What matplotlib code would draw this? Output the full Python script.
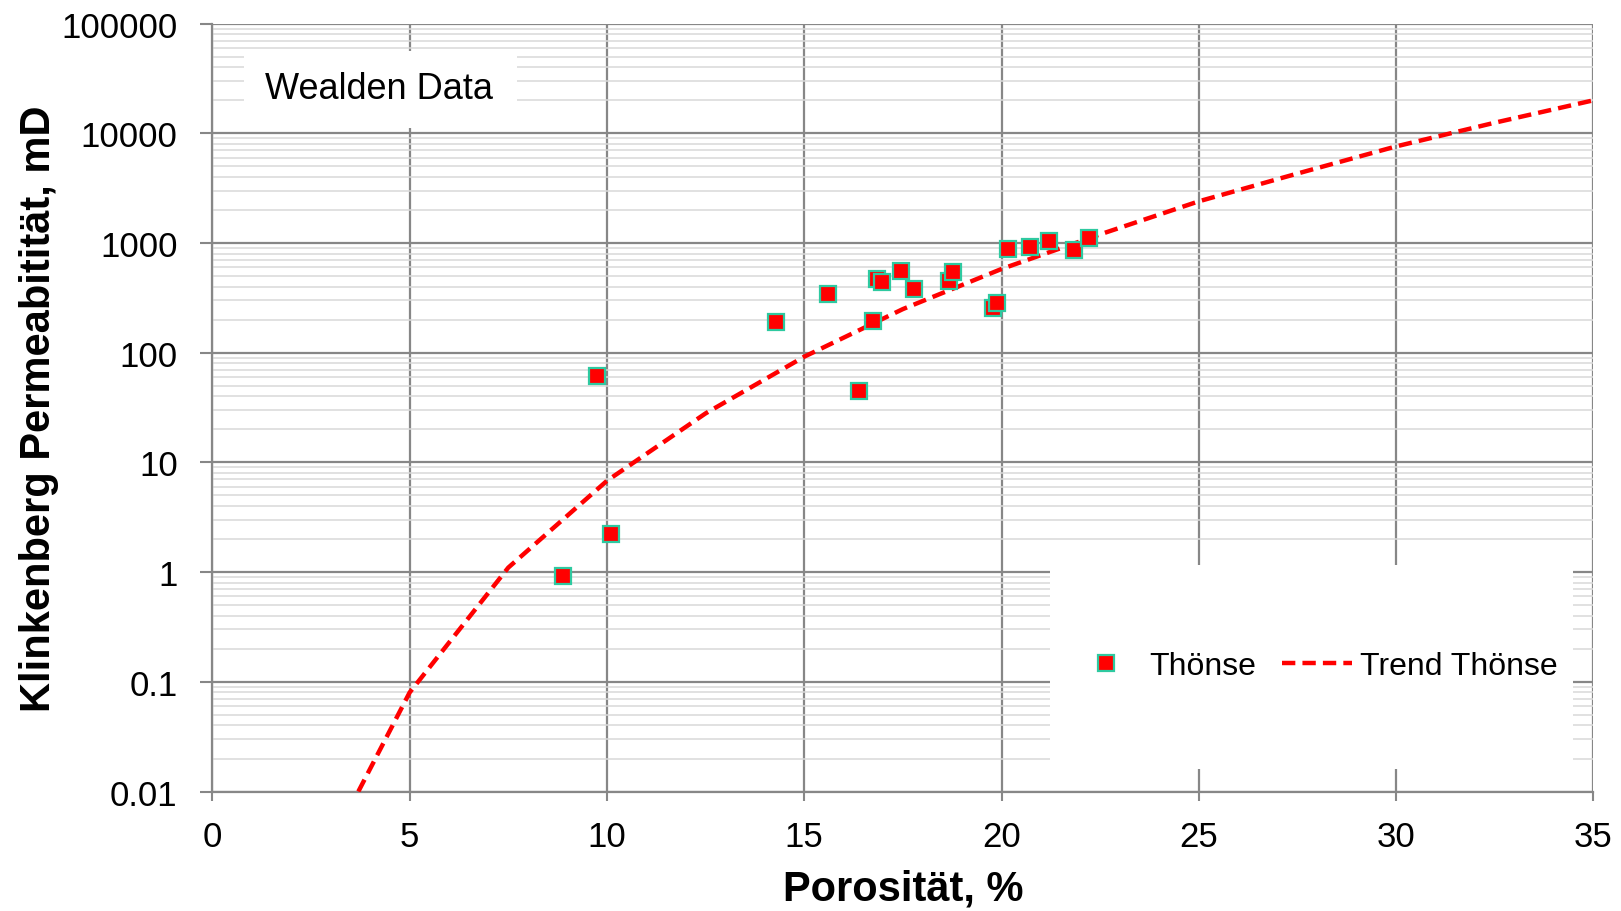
import matplotlib
matplotlib.use("Agg")
import matplotlib.pyplot as plt
from matplotlib.ticker import FixedLocator, LogLocator, NullFormatter
from matplotlib.patches import Rectangle

plt.rcParams['font.family'] = ['Liberation Sans', 'DejaVu Sans']

# Measured data (Thönse)
porosity = [8.88, 9.74, 10.11, 14.28, 15.59, 16.39, 16.73, 16.85, 16.98, 17.46,
            17.78, 18.67, 18.77, 19.79, 19.89, 20.16, 20.71, 21.19, 21.83, 22.21]
perm = [0.92, 62, 2.22, 192, 340, 45, 195, 469, 443, 558,
        384, 447, 540, 258, 283, 881, 913, 1036, 868, 1111]

# Trend line points
trend_x = [3.7, 5, 7.5, 10, 12.5, 15, 17.5, 20, 22.5, 25, 27.5, 30, 32.5, 35]
trend_y = [0.01, 0.08, 1.1, 6.8, 28, 92, 250, 580, 1200, 2400, 4300, 7600, 12500, 20000]

xticks = [0, 5, 10, 15, 20, 25, 30, 35]
yticks = [0.01, 0.1, 1, 10, 100, 1000, 10000, 100000]
ytick_labels = ['0.01', '0.1', '1', '10', '100', '1000', '10000', '100000']

fig = plt.figure(figsize=(16.21, 9.12), dpi=100)
ax = fig.add_axes([0.131, 0.131, 0.852, 0.842])

ax.set_yscale('log')
ax.set_xlim(0, 35)
ax.set_ylim(0.01, 100000)

ax.xaxis.set_major_locator(FixedLocator(xticks))
ax.yaxis.set_major_locator(FixedLocator(yticks))
ax.yaxis.set_minor_locator(LogLocator(base=10, subs=range(2, 10), numticks=20))
ax.yaxis.set_minor_formatter(NullFormatter())
ax.set_yticklabels(ytick_labels)

ax.grid(True, which='major', color='#878787', linewidth=1.6, zorder=0)
ax.grid(True, which='minor', axis='y', color='#d9d9d9', linewidth=1.1, zorder=0)
ax.set_axisbelow(True)

for s in ['top', 'right']:
    ax.spines[s].set_visible(False)
for s in ['left', 'bottom']:
    ax.spines[s].set_color('#878787')
    ax.spines[s].set_linewidth(1.6)

ax.tick_params(axis='y', which='major', direction='out', length=9, width=1.5,
               color='#878787', labelsize=25, pad=16)
ax.tick_params(axis='x', which='major', direction='out', length=6.5, width=1.5,
               color='#878787', labelsize=25, pad=14)
ax.tick_params(axis='y', which='minor', length=0)

ax.plot(trend_x, trend_y, color='#ff0000', linestyle=(0, (3, 1.6)), linewidth=3.2,
        zorder=3, label='Trend Thönse')
ax.plot(porosity, perm, linestyle='none', marker='s', markersize=11.5,
        markerfacecolor='#ff0000', markeredgecolor='#2ec9a0', markeredgewidth=1.6,
        zorder=4, label='Thönse')

ax.set_xlabel('Porosität, %', fontsize=30, fontweight='bold', va='center')
ax.xaxis.set_label_coords(0.5, -0.1257)
ax.set_ylabel('Klinkenberg Permeabitität, mD', fontsize=30, fontweight='bold', va='center')
ax.yaxis.set_label_coords(-0.1256, 0.5)

# Wealden Data box
ax.add_patch(Rectangle((0.0229, 0.864), 0.1977, 0.100, transform=ax.transAxes,
                       facecolor='white', edgecolor='none', zorder=5))
ax.text(0.121, 0.916, 'Wealden Data', transform=ax.transAxes, fontsize=26,
        ha='center', va='center', zorder=6)

# Legend area
ax.add_patch(Rectangle((0.6065, 0.029), 0.3785, 0.266, transform=ax.transAxes,
                       facecolor='white', edgecolor='none', zorder=5))
handles, labels = ax.get_legend_handles_labels()
order = [1, 0]
leg = ax.legend([handles[i] for i in order], [labels[i] for i in order],
                loc='center left', bbox_to_anchor=(0.6217, 0.1634),
                ncol=2, frameon=False, fontsize=23, handlelength=2.2,
                columnspacing=0.8, handletextpad=0.25, borderaxespad=0, borderpad=0)
leg.set_zorder(7)

fig.savefig('out.png', dpi=100)
